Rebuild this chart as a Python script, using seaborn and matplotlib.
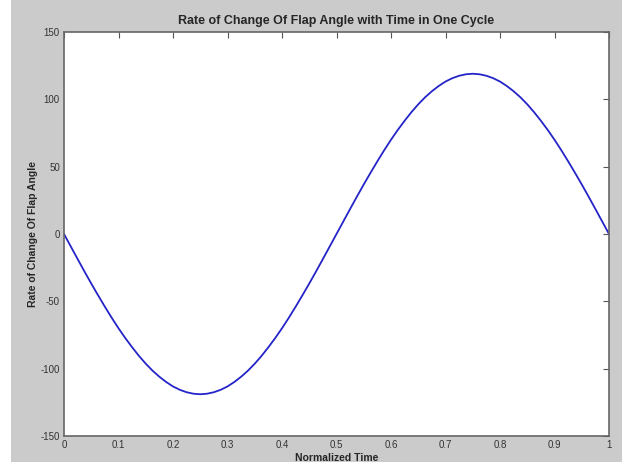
import matplotlib
matplotlib.use("Agg")
import matplotlib.pyplot as plt
import seaborn as sns
import pandas as pd
from matplotlib.patches import Rectangle

# values, every 0.0125 of normalized time
time = [i / 80 for i in range(81)]
rate = [0.0, -9.3, -18.6, -27.8, -36.8, -45.5, -54.0, -62.2, -70.0, -77.3,
        -84.1, -90.5, -96.3, -101.5, -106.0, -109.9, -113.2, -115.7, -117.5, -118.6,
        -119.0, -118.6, -117.5, -115.7, -113.2, -109.9, -106.0, -101.5, -96.3, -90.5,
        -84.1, -77.3, -70.0, -62.2, -54.0, -45.5, -36.8, -27.8, -18.6, -9.3,
        0.0, 9.3, 18.6, 27.8, 36.8, 45.5, 54.0, 62.2, 70.0, 77.3,
        84.1, 90.5, 96.3, 101.5, 106.0, 109.9, 113.2, 115.7, 117.5, 118.6,
        119.0, 118.6, 117.5, 115.7, 113.2, 109.9, 106.0, 101.5, 96.3, 90.5,
        84.1, 77.3, 70.0, 62.2, 54.0, 45.5, 36.8, 27.8, 18.6, 9.3, 0.0]
xticks = [0, 0.1, 0.2, 0.3, 0.4, 0.5, 0.6, 0.7, 0.8, 0.9, 1]
xtick_labels = ["0", "0.1", "0.2", "0.3", "0.4", "0.5", "0.6", "0.7", "0.8", "0.9", "1"]
yticks = [-150, -100, -50, 0, 50, 100, 150]

df = pd.DataFrame({"t": time, "r": rate})

sns.set_style("white")
plt.rcParams["font.family"] = ["Liberation Sans", "DejaVu Sans"]
plt.rcParams["axes.unicode_minus"] = False

fig = plt.figure(figsize=(6.22, 4.66), dpi=100, facecolor="white")
# gray MATLAB-style figure background, white strip at left and bottom
fig.patches.append(Rectangle((11 / 622, 4 / 466), 1, 1, transform=fig.transFigure,
                             facecolor="#cbcbcb", edgecolor="none", zorder=-1))
ax = fig.add_axes([64 / 622, 30 / 466, 545 / 622, 404 / 466])
ax.set_facecolor("white")

sns.lineplot(data=df, x="t", y="r", ax=ax, color="#2424c8", linewidth=1.3)

ax.set_xlim(0, 1)
ax.set_ylim(-150, 150)
ax.set_xticks(xticks)
ax.set_xticklabels(xtick_labels)
ax.set_yticks(yticks)
ax.tick_params(direction="in", length=4, width=0.8, colors="#555555",
               labelsize=7, labelcolor="#333333", top=True, right=True, pad=3)
for s in ax.spines.values():
    s.set_color("#666666")
    s.set_linewidth(1.2)

ax.set_title("Rate of Change Of Flap Angle with Time in One Cycle",
             fontsize=9, fontweight="bold", pad=6)
ax.set_xlabel("Normalized Time", fontsize=7.5, fontweight="bold", labelpad=2)
ax.set_ylabel("Rate of Change Of Flap Angle", fontsize=7.5, fontweight="bold", labelpad=0)
ax.yaxis.set_label_coords(-26 / 545, 0.5)

fig.savefig("out.png", dpi=100, facecolor=fig.get_facecolor())
